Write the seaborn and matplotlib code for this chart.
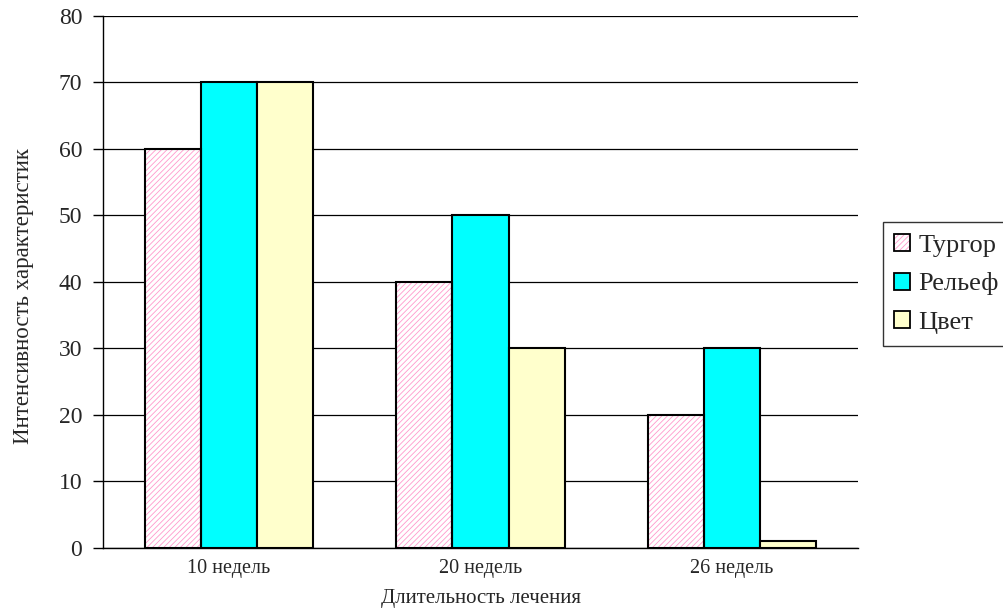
import matplotlib
matplotlib.use("Agg")
import matplotlib.pyplot as plt
from matplotlib.patches import Rectangle
import seaborn as sns
import pandas as pd

periods = ["10 недель", "20 недель", "26 недель"]
series = ["Тургор", "Рельеф", "Цвет"]
turgor = [60, 40, 20]
relief = [70, 50, 30]
colour = [70, 30, 1]
y_ticks = [0, 10, 20, 30, 40, 50, 60, 70, 80]

colors = {"Тургор": "#FFFFFF", "Рельеф": "#00FFFF", "Цвет": "#FFFFCC"}
hatch_pink = "#FF99CC"

df = pd.DataFrame({
    "period": periods * 3,
    "series": [s for s in series for _ in periods],
    "value": turgor + relief + colour,
})

sns.set_theme(style="white")
plt.rcParams["font.family"] = ["Liberation Serif", "DejaVu Serif"]
plt.rcParams["hatch.linewidth"] = 0.6

fig = plt.figure(figsize=(10.04, 6.08), dpi=100)
ax = fig.add_axes([0.1026, 0.0987, 0.7520, 0.875])

sns.barplot(data=df, x="period", y="value", hue="series", order=periods,
            hue_order=series, palette=colors, width=0.67, edgecolor="black",
            linewidth=1.5, saturation=1, legend=False, ax=ax, zorder=3)

# hatched pink fill for the first series, with a black outline drawn on top
for bar in ax.containers[0]:
    bar.set_facecolor("white")
    bar.set_edgecolor(hatch_pink)
    bar.set_hatch("//////")
    bar.set_linewidth(0)
    ax.add_patch(Rectangle(bar.get_xy(), bar.get_width(), bar.get_height(),
                           fill=False, edgecolor="black", linewidth=1.5, zorder=4))

ax.set_ylim(0, 80)
ax.set_xlim(-0.5, 2.5)
ax.set_yticks(y_ticks)
ax.yaxis.grid(True, color="black", linewidth=0.9)
ax.set_axisbelow(True)
for side in ["top", "right"]:
    ax.spines[side].set_visible(False)
ax.spines["left"].set_color("black")
ax.spines["bottom"].set_color("black")
ax.spines["left"].set_linewidth(1.0)
ax.spines["bottom"].set_linewidth(1.0)
ax.tick_params(axis="y", which="both", left=True, length=7, width=1, color="black",
               labelsize=17, pad=8)
ax.tick_params(axis="x", bottom=False, labelsize=14.5, pad=2)

ax.set_xlabel("Длительность лечения", fontsize=15)
ax.xaxis.set_label_coords(0.5, -0.078)
ax.set_ylabel("Интенсивность характеристик", fontsize=16.5)
ax.yaxis.set_label_coords(-0.091, 0.474)

turgor_handle = (
    Rectangle((0, 0), 1, 1, facecolor="white", edgecolor=hatch_pink, hatch="//////",
              linewidth=0),
    Rectangle((0, 0), 1, 1, fill=False, edgecolor="black", linewidth=1.3),
)
handles = [
    turgor_handle,
    Rectangle((0, 0), 1, 1, facecolor=colors["Рельеф"], edgecolor="black", linewidth=1.3),
    Rectangle((0, 0), 1, 1, facecolor=colors["Цвет"], edgecolor="black", linewidth=1.3),
]
leg = fig.legend(handles, series, loc="center left", bbox_to_anchor=(0.879, 0.533),
                 fontsize=19, frameon=True, fancybox=False, edgecolor="black",
                 handlelength=0.6, handleheight=0.6, handletextpad=0.3,
                 borderpad=0.45, labelspacing=0.6, borderaxespad=0)
leg.get_frame().set_linewidth(1.0)

fig.savefig("out.png", dpi=100, facecolor="white")
